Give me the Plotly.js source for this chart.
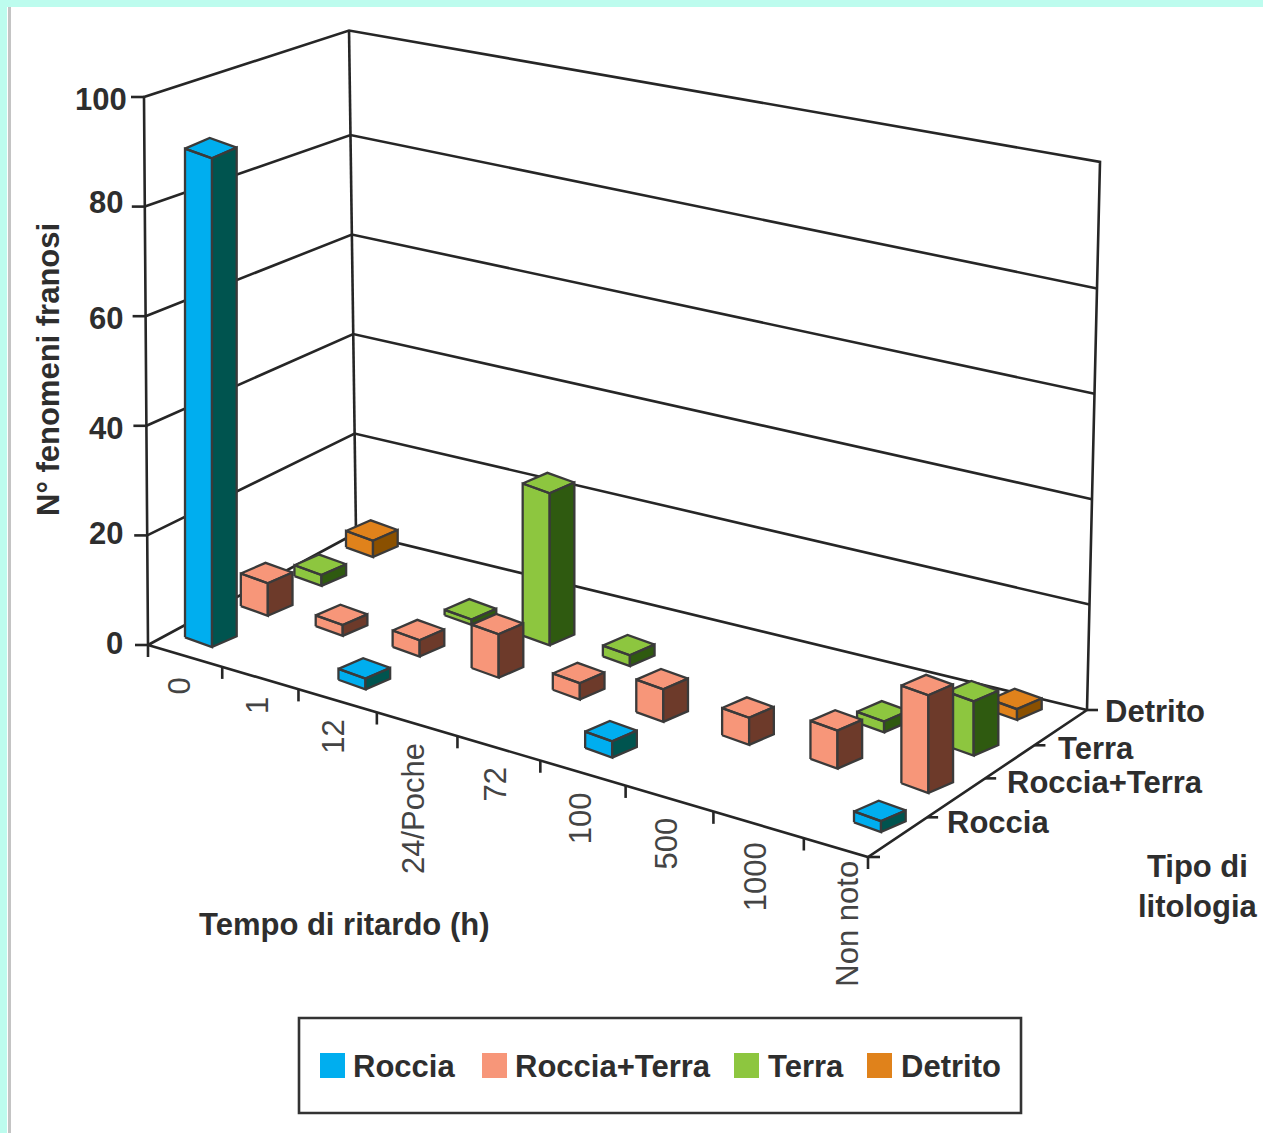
<!DOCTYPE html>
<html lang="it">
<head>
<meta charset="utf-8">
<title>Tempo di ritardo e litologia</title>
<script src="https://cdn.plot.ly/plotly-3.0.1.min.js"></script>
<style>html,body{margin:0;padding:0;background:#fff}#chart{width:1263px;height:1133px}</style>
</head>
<body>
<div id="chart"></div>
<script>
// Delay categories along the front axis, rock types along the depth axis
const delayLabels = ['0', '1', '12', '24/Poche', '72', '100', '500', '1000', 'Non noto'];
const rockLabels = ['Roccia', 'Roccia+Terra', 'Terra', 'Detrito'];
const heightTicks = [0, 20, 40, 60, 80, 100];

// Number of landslides per delay class
const roccia      = [90, 0, 2, 0, 0, 3, 0, 0, 2];
const rocciaTerra = [6, 2, 3, 8, 3, 6, 5, 7, 18];
const terra       = [2, 0, 1, 28, 2, 0, 0, 2, 10];
const detrito     = [3, 0, 0, 0, 0, 0, 0, 0, 2];

const rockValues = [roccia, rocciaTerra, terra, detrito];
const faceColors = ['#00aeef', '#f79679', '#8dc63f', '#e0821b'];
const sideColors = ['#00544f', '#6d3a2a', '#2f5a10', '#8a5000'];

const INK = '#2e2e2e', EDGE = '#3a3a3a';
const FONT = 'Liberation Sans, Arial, sans-serif';

// Projective map of a unit square: corners p00, p10, p01, p11 in chart-space pixels
function squareMap(p00, p10, p01, p11) {
  const d = (a, b, c) => a[0] * (b[1] - c[1]) + b[0] * (c[1] - a[1]) + c[0] * (a[1] - b[1]);
  // weights of p10 and p01 so that their combination lands on p11
  const den = d(p10, p01, p11);
  const a = d(p00, p01, p11) / den;
  const b = d(p10, p00, p11) / den;
  return (u, v) => {
    const w = 1 + u * (a - 1) + v * (b - 1);
    return [
      (p00[0] + u * (a * p10[0] - p00[0]) + v * (b * p01[0] - p00[0])) / w,
      (p00[1] + u * (a * p10[1] - p00[1]) + v * (b * p01[1] - p00[1])) / w
    ];
  };
}

const lerp = (p, q, t) => [p[0] + (q[0] - p[0]) * t, p[1] + (q[1] - p[1]) * t];

// Scene frame: floor corners and the vertical edges of the two walls
const O = [148, 645], BL = [356, 533], BR = [1087, 710];
const frontEnd = [868, 857];
const frontTickEnd = [897, 866];
const edgeFL = [O, [144, 97]];
const edgeBL = [BL, [349.1, 35.5]];
const edgeBR = [BR, [1099.5, 183]];
const atLevel = (edge, w) => lerp(edge[0], edge[1], w / 100);

// Spacing of the delay ticks widens toward the viewer
const FRONT_PERSP = 0.88;
function frontAt(i) {
  const t = i / delayLabels.length;
  return lerp(O, frontTickEnd, FRONT_PERSP * t / (1 - (1 - FRONT_PERSP) * t));
}

// Bar grid on the floor: lower front vertex of each bar
const barGrid = squareMap([212, 647], [881, 832], [373, 557], [1017, 720]);
const barAnchor = (i, j) => barGrid(i / (delayLabels.length - 1), j / (rockLabels.length - 1));
const WIDTH_VEC = [27, 9.7], DEPTH_VEC = [24.7, -10.7], PX_PER_UNIT = 5.43;

function lineTrace(segments, width, color) {
  const x = [], y = [];
  segments.forEach(s => {
    s.forEach(p => { x.push(p[0]); y.push(p[1]); });
    x.push(null); y.push(null);
  });
  return { type: 'scatter', mode: 'lines', x, y, hoverinfo: 'skip', showlegend: false,
           line: { color, width, simplify: false } };
}

// Walls, floor and ticks
const frame = [];
frame.push([atLevel(edgeFL, 0), atLevel(edgeFL, 100), atLevel(edgeBL, 101), atLevel(edgeBR, 104), BR]);
frame.push([atLevel(edgeBL, 101), BL]);
frame.push([O, BL, BR, frontEnd, O]);
heightTicks.slice(1, -1).forEach(w => {
  frame.push([atLevel(edgeFL, w), atLevel(edgeBL, w), atLevel(edgeBR, w)]);
});
heightTicks.forEach(w => {
  const p = atLevel(edgeFL, w);
  frame.push([[p[0] - 13, p[1]], p]);
});
for (let i = 0; i < delayLabels.length; i++) {
  const p = frontAt(i);
  frame.push([p, [p[0], p[1] + 12]]);
}
frame.push([frontEnd, [frontEnd[0], frontEnd[1] + 12]]);

// Depth axis ticks run along the right floor edge
const depthTickAt = [0.27, 0.535, 0.76, 1];
depthTickAt.forEach(t => {
  const p = lerp(frontEnd, BR, t);
  frame.push([p, [p[0] + 11, p[1]]]);
});
frame.push([frontEnd, [frontEnd[0] + 12, frontEnd[1]]]);

const traces = [lineTrace(frame, 2.6, '#262626')];

// Rows are painted back to front so nearer bars cover farther ones
for (let j = rockLabels.length - 1; j >= 0; j--) {
  const face = [], side = [];
  rockValues[j].forEach((value, i) => {
    if (value <= 0) return;
    const v = barAnchor(i, j);
    const h = value * PX_PER_UNIT;
    const up = p => [p[0], p[1] - h];
    const l = [v[0] - WIDTH_VEC[0], v[1] - WIDTH_VEC[1]];
    const r = [v[0] + DEPTH_VEC[0], v[1] + DEPTH_VEC[1]];
    const b = [l[0] + DEPTH_VEC[0], l[1] + DEPTH_VEC[1]];
    face.push([l, v, up(v), up(l), l]);
    side.push([v, r, up(r), up(v), v]);
    face.push([up(l), up(v), up(r), up(b), up(l)]);
  });
  const faceTrace = lineTrace(face, 2.3, EDGE);
  const sideTrace = lineTrace(side, 2.3, EDGE);
  faceTrace.fill = 'toself'; faceTrace.fillcolor = faceColors[j]; faceTrace.name = rockLabels[j];
  sideTrace.fill = 'toself'; sideTrace.fillcolor = sideColors[j]; sideTrace.name = rockLabels[j];
  traces.push(faceTrace, sideTrace);
}

const note = (text, x, y, opts) => Object.assign({
  text, x, y, xref: 'x', yref: 'y', showarrow: false, borderpad: 0,
  font: { family: FONT, size: 31, color: INK, weight: 700 }
}, opts);

const annotations = [];

// Height axis
const heightLabelY = [643, 533, 428, 318, 202, 99];
heightTicks.forEach((w, k) => {
  annotations.push(note(String(w), w === 100 ? 128 : 124, heightLabelY[k], { xanchor: 'right', yanchor: 'middle' }));
});

// Delay labels, upright along the front edge
const delayLabelShift = [[-3, 3], [0, 0], [-1, 0], [0, 0], [0, 0], [0, 0], [0, 0], [0, -2], [0, -11]];
delayLabels.forEach((label, i) => {
  const m = lerp(frontAt(i), frontAt(i + 1), 0.5);
  annotations.push(note(label, m[0] - 3 + delayLabelShift[i][0], m[1] + 18 + delayLabelShift[i][1], {
    textangle: -90, xanchor: 'center', yanchor: 'top',
    font: { family: FONT, size: 31, color: '#444444', weight: 400 }
  }));
});

// Rock type labels beside the depth ticks
const rockLabelShift = [[19, 5], [21, 4], [23, 3], [17, 1]];
depthTickAt.forEach((t, j) => {
  const p = lerp(frontEnd, BR, t);
  annotations.push(note(rockLabels[j], p[0] + rockLabelShift[j][0], p[1] + rockLabelShift[j][1], { xanchor: 'left', yanchor: 'middle' }));
});

// Axis titles
annotations.push(note('N° fenomeni franosi', 48, 370, { textangle: -90, xanchor: 'center', yanchor: 'middle' }));
annotations.push(note('Tempo di ritardo (h)', 198, 924, { xanchor: 'left', yanchor: 'middle' }));
annotations.push(note('Tipo di<br>litologia', 1198, 886, { xanchor: 'center', yanchor: 'middle', align: 'center' }));

// Legend box
const shapes = [
  { type: 'rect', xref: 'x', yref: 'y', x0: 8, x1: 11, y0: 7, y1: 1133, fillcolor: '#c4c4c4', line: { width: 0 } },
  { type: 'rect', xref: 'x', yref: 'y', x0: 299, x1: 1021, y0: 1018, y1: 1113, fillcolor: '#ffffff', line: { color: '#333333', width: 2.6 } }
];
const legendSwatchX = [320, 482, 734, 867];
const legendTextX = [352, 514, 767, 900];
rockLabels.forEach((label, j) => {
  shapes.push({ type: 'rect', xref: 'x', yref: 'y', x0: legendSwatchX[j], x1: legendSwatchX[j] + 25, y0: 1053, y1: 1078,
                fillcolor: faceColors[j], line: { width: 0 } });
  annotations.push(note(label, legendTextX[j], 1066, { xanchor: 'left', yanchor: 'middle' }));
});

const layout = {
  width: 1263, height: 1133,
  margin: { l: 7, r: 0, t: 7, b: 0, pad: 0 },
  paper_bgcolor: '#bdfcee', plot_bgcolor: '#ffffff',
  showlegend: false, hovermode: false,
  xaxis: { visible: false, range: [7, 1263], fixedrange: true },
  yaxis: { visible: false, range: [1133, 7], fixedrange: true },
  shapes, annotations
};

Plotly.newPlot('chart', traces, layout, { displayModeBar: false, staticPlot: true });
</script>
</body>
</html>
